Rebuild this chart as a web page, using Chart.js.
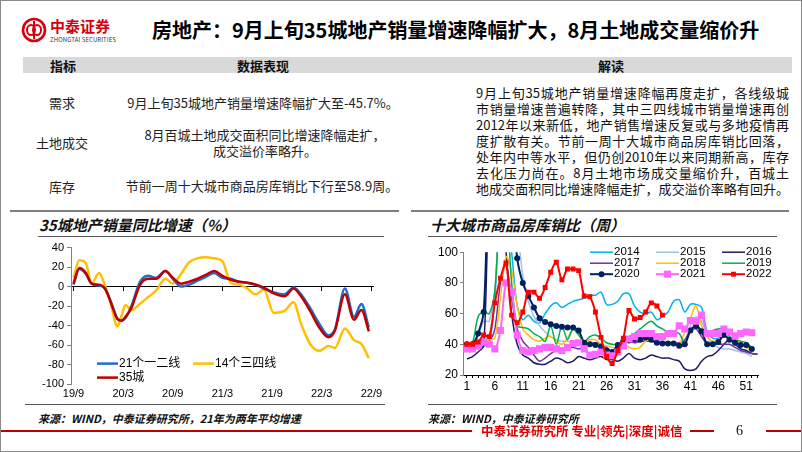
<!DOCTYPE html>
<html>
<head>
<meta charset="utf-8">
<script src="https://cdn.jsdelivr.net/npm/chart.js@4.4.1/dist/chart.umd.min.js"></script>
<style>
  html, body { margin: 0; padding: 0; background: #fff; }
  #slide { position: relative; width: 802px; height: 452px; overflow: hidden; font-family: "Noto Sans CJK SC", sans-serif; color: #111; }
  .abs { position: absolute; white-space: nowrap; }
  .c { position: absolute; white-space: nowrap; transform: translate(-50%, -50%); }
  .hline { position: absolute; height: 0; }
  .ttl { font-style: italic; font-weight: bold; font-size: 15px; }
  .src { font-style: italic; font-weight: bold; font-size: 11px; }
  .cell { font-size: 13px; color: #222; }
  #notes { position: absolute; left: 476px; top: 85px; width: 313px; font-size: 13px; line-height: 16px; color: #111; }
  #notes div { text-align: justify; text-align-last: justify; }
</style>
</head>
<body>
<div id="slide">
  <!-- logo + title -->
  <svg class="abs" style="left:21px;top:17px" width="26" height="26" viewBox="0 0 26 26">
    <circle cx="13" cy="13" r="11" fill="none" stroke="#d7000f" stroke-width="2.6"/>
    <ellipse cx="10" cy="13" rx="4" ry="5" fill="none" stroke="#d7000f" stroke-width="2"/>
    <ellipse cx="16" cy="13" rx="4" ry="5" fill="none" stroke="#d7000f" stroke-width="2"/>
    <line x1="13" y1="4" x2="13" y2="22" stroke="#d7000f" stroke-width="2"/>
  </svg>
  <div class="abs" style="left:50px;top:17px;font-size:15px;font-weight:bold;color:#d7000f;line-height:18px">中泰证券</div>
  <div class="abs" style="left:50px;top:36px;font-size:6px;color:#333;line-height:7px;letter-spacing:0.1px">ZHONGTAI SECURITIES</div>
  <div class="abs" style="left:152px;top:17px;font-size:20px;font-weight:bold;line-height:26px;color:#000">房地产：9月上旬35城地产销量增速降幅扩大，8月土地成交量缩价升</div>

  <!-- table -->
  <div class="abs" style="left:23px;top:57px;width:769px;height:16px;background:#d9d9d9"></div>
  <div class="c" style="left:63px;top:65px;font-size:13px;font-weight:bold">指标</div>
  <div class="c" style="left:263px;top:65px;font-size:13px;font-weight:bold">数据表现</div>
  <div class="c" style="left:611px;top:65px;font-size:13px;font-weight:bold">解读</div>

  <div class="c cell" style="left:62px;top:102px">需求</div>
  <div class="c cell" style="left:263px;top:102px">9月上旬35城地产销量增速降幅扩大至-45.7%。</div>
  <div class="c cell" style="left:62px;top:142px">土地成交</div>
  <div class="c cell" style="left:265px;top:134px">8月百城土地成交面积同比增速降幅走扩，</div>
  <div class="c cell" style="left:265px;top:150px">成交溢价率略升。</div>
  <div class="c cell" style="left:62px;top:186px">库存</div>
  <div class="c cell" style="left:262px;top:185px">节前一周十大城市商品房库销比下行至58.9周。</div>

  <div id="notes">
    <div>9月上旬35城地产销量增速降幅再度走扩，各线级城</div>
    <div>市销量增速普遍转降，其中三四线城市销量增速再创</div>
    <div>2012年以来新低，地产销售增速反复或与多地疫情再</div>
    <div>度扩散有关。节前一周十大城市商品房库销比回落，</div>
    <div>处年内中等水平，但仍创2010年以来同期新高，库存</div>
    <div>去化压力尚在。8月土地市场成交量缩价升，百城土</div>
    <div>地成交面积同比增速降幅走扩，成交溢价率略有回升。</div>
  </div>

  <!-- chart frames -->
  <div class="hline" style="left:10px;top:210px;width:389px;border-top:2px solid #7f7f7f"></div>
  <div class="hline" style="left:411px;top:210px;width:378px;border-top:2px solid #7f7f7f"></div>
  <div class="abs ttl" style="left:39px;top:214px;line-height:22px">35城地产销量同比增速（%）</div>
  <div class="abs ttl" style="left:430px;top:214px;line-height:22px">十大城市商品房库销比（周）</div>
  <div class="hline" style="left:38px;top:236px;width:346px;border-top:1.5px solid #595959"></div>
  <div class="hline" style="left:428px;top:236px;width:349px;border-top:1.5px solid #595959"></div>
  <div class="hline" style="left:25px;top:404px;width:360px;border-top:1.5px solid #595959"></div>
  <div class="hline" style="left:428px;top:404px;width:349px;border-top:1.5px solid #595959"></div>

  <canvas id="salesChart" class="abs" style="left:28px;top:238px" width="360" height="165"></canvas>
  <canvas id="stockChart" class="abs" style="left:420px;top:243px" width="355" height="152"></canvas>

  <div class="abs src" style="left:38px;top:410px;line-height:16px">来源：WIND，中泰证券研究所，21年为两年平均增速</div>
  <div class="abs src" style="left:428px;top:410px;line-height:16px">来源：WIND，中泰证券研究所</div>

  <!-- footer -->
  <div class="hline" style="left:0;top:430px;width:472px;border-top:2px solid #c00000"></div>
  <div class="abs" style="left:481px;top:422px;font-size:12.5px;font-weight:bold;color:#e00000;line-height:18px">中泰证券研究所 专业|领先|深度|诚信</div>
  <div class="hline" style="left:690px;top:430px;width:24px;border-top:2px solid #c00000"></div>
  <div class="abs" style="left:736px;top:422px;font-family:'Liberation Serif',serif;font-size:14px;line-height:18px">6</div>
  <div class="hline" style="left:766px;top:430px;width:36px;border-top:2px solid #c00000"></div>

  <div class="abs" style="left:0;top:0;width:800px;height:450px;border:1px solid #8a8a8a"></div>
</div>

<script>
// ---- left chart: 35城地产销量同比增速 (x = months since 2019/9) ----
const monthPos = [0, 0.7, 1.5, 2.2, 3.1, 3.8, 4.5, 5.3, 5.8, 6.3, 7, 8, 9, 10, 11.1, 12, 13, 14, 15, 16, 17, 18, 19, 20, 21, 22, 23, 24.2, 25.5, 26.6, 27.5, 28.6, 29.7, 30.8, 31.6, 32.8, 33.9, 34.8, 35.7];
const tier12 = [2, 18, 13, 3, 1, -2, -15, -33, -35, -32, -20, 4, 11, 9, 16, 8, 0, 2, 6, 10, 14, 9, 8, 5, 4, 2, -2, -6, -8, -1, -8, -22, -38, -50, -44, -2, -31, -18, -42];
const tier34 = [9, 27, 24, 3, 14, 1, -17, -41, -30, -19, -24, -18, -11, -4, 8, 3, 13, 25, 29, 30, 29, 26, 4, 2, -2, -8, -3, -27, -25, -16, -38, -59, -66, -61, -63, -43, -55, -59, -73.5];
const city35 = [3, 19, 14, 3, 2, -2, -16, -33, -35, -31, -22, 1, 8, 8, 16, 9, 3, 5, 8, 12, 16, 11, 7, 5, 4, 2, -1, -7, -10, -2, -10, -25, -42, -52, -45, -8, -34, -24, -46];
const monthTicks = [0, 6, 12, 18, 24, 30, 36];
const monthLabels = ['19/9', '20/3', '20/9', '21/3', '21/9', '22/3', '22/9'];

// ---- right chart: 十大城市商品房库销比 (weekly, values above 100 run off the top) ----
const weeks = [1, 2, 3, 4, 5, 6, 7, 8, 9, 10, 11, 12, 13, 14, 15, 16, 17, 18, 19, 20, 21, 22, 23, 24, 25, 26, 27, 28, 29, 30, 31, 32, 33, 34, 35, 36, 37, 38, 39, 40, 41, 42, 43, 44, 45, 46, 47, 48, 49, 50, 51, 52, 53];
const y2014 = [40, 38, 37, 39, 40, 70, 130, 130, 100, 65, 56, 59, 55, 54, 60, 65, 67, 64, 66, 68, 69, 70, 72, 72, 74, 66, 66, 68, 73, 73, 65, 61, 60, 61, 56, 58, 61, 68, 69, 61, 66, 66, 64, 48, 44, 44, 46, 43, 42, 40, 38, 36, null];
const y2015 = [40, 40, 45, 55, 55, 75, 130, 130, 130, 115, 85, 68, 58, 52, 48, 45, 43, 42, 42, 41, 40, 40, 41, 41, 40, 37, 36, 37, 40, 42, 43, 43, 42, 43, 42, 42, 41, 41, 40, 40, 52, 58, 55, 45, 40, 38, 37, 37, 36, 35, 34, 32, null];
const y2016 = [30.5, 32, 35, 39, 130, 130, 130, 100, 60, 40, 33, 31, 28, 27, 27, 29, 31, 30, 28, 29, 32, 31, 30, 31, 32, 30, 30, 29, 31, 34, 31, 30, 31, 33, 32, 31, 31, 30, 29, 24, 23, 24, 29, 32, 33, 36, 40, 43, 40, 37, 36, 34, 33.5];
const y2017 = [40, 40, 40, 42, 42, 50, 80, 92, 70, 50, 42, 38, 33, 29, 31, 34, 36, 37, 38, 38, 37, 38, 40, 41, 40, 38, 35, 36, 41, 42, 41, 42, 42, 42, 41, 41, 41, 41, 41, 43, 49, 50, 45, 40, 40, 40, 40, 40, 38, 36, 35, 34, 33.5];
const y2018 = [40, 40, 41, 42, 43, 44, 70, 97, 88, 65, 50, 46, 43, 42, 44, 45, 42, 40, 44, 50, 46, 42, 43, 43, 40, 39, 38, 38, 40, 38, 37, 38, 42, 43, 41, 40, 41, 40, 40, 48, 57, 65, 52, 45, 42, 43, 45, 44, 42, 40, 38, 36, null];
const y2019 = [40, 41, 58, 61, 60, 75, 130, 130, 80, 52, 51, 50, 47, 45, 42, 52, 40, 52, 43, 50, 46, 42, 45, 46, 44, 41, 40, 40, 42, 45, 47, 50, 53, 55, 52, 50, 48, 48, 47, 41, 49, 52, 47, 47, 49, 50, 50, 45, 43, 42, 41, 38, null];
const y2020 = [40, 40, 47, 61, 150, 150, 150, 150, 140, 96, 80, 71.5, 64, 57, 54.5, 53, 52, 51.5, 51, 51, 49, 41, 40, 39.5, 38.5, 36, 35, 39.5, 42, 42.5, 43.5, 43, 44.5, 43, 41, 40.5, 40.5, 40.5, 39, 40, 49, 52, 48.5, 40, 40, 41.5, 46, 43, 41, 39.5, 39.5, 37, null];
const y2021 = [37, 37, 39, 41.5, 40, 37, 49, 80, 74, 46, 36, 35, 36, 37, 38, 38, 37, 36, 38, 40.5, 41, 37, 33, 33.5, 35, 33, 32.5, 35, 39, 43.5, 45, 47, 47, 47, 45, 45, 47, 47, 52, 50, 55.5, 55, 59, 47, 47, 47, 50, 48, 45.5, 47, 48, 47.5, null];
const y2022 = [40, 40, 41.5, 46, 45, 67, 83, 93, 59, 54, 61, 74, 74, 70, 77, 87, 93.5, 82, 89, 89, 88, 71.5, 71, 61, 44.5, 32, 27.5, 36, 44, 62, 56.5, 57.5, 61, 67, 65, 59];

const tickFont = { family: "'Liberation Sans', Arial, sans-serif", size: 11 };

const xy = (xs, ys) => xs.map((x, i) => ({ x: x, y: ys[i] === undefined ? null : ys[i] }));

// legend drawn inside the plot, placed relative to the chart area
const inlineLegend = {
  id: 'inlineLegend',
  afterDraw(chart, args, opts) {
    if (!opts.items) return;
    const ctx = chart.ctx;
    const area = chart.chartArea;
    ctx.save();
    ctx.font = opts.font;
    ctx.textBaseline = 'middle';
    opts.items.forEach((it) => {
      const ds = chart.data.datasets[it.index];
      const x = area.left + it.x, y = area.top + it.y;
      ctx.strokeStyle = ds.borderColor;
      ctx.lineWidth = ds.borderWidth;
      ctx.beginPath();
      ctx.moveTo(x, y);
      ctx.lineTo(x + opts.lineLen, y);
      ctx.stroke();
      if (ds.pointRadius) {
        const mx = x + opts.lineLen / 2;
        ctx.fillStyle = ds.pointBackgroundColor;
        if (ds.pointStyle === 'rect') {
          const s = ds.pointRadius * Math.SQRT1_2;
          ctx.fillRect(mx - s, y - s, 2 * s, 2 * s);
        } else {
          ctx.beginPath();
          ctx.arc(mx, y, ds.pointRadius, 0, Math.PI * 2);
          ctx.fill();
        }
      }
      ctx.fillStyle = '#000';
      ctx.fillText(ds.label, x + opts.lineLen + 1, y);
    });
    ctx.restore();
  }
};

new Chart(document.getElementById('salesChart'), {
  type: 'line',
  plugins: [inlineLegend],
  data: {
    datasets: [
      { label: '21个一二线', data: xy(monthPos, tier12), borderColor: '#1f6fc5', borderWidth: 2.5, order: 1 },
      { label: '14个三四线', data: xy(monthPos, tier34), borderColor: '#ffc000', borderWidth: 2.5, order: 2 },
      { label: '35城', data: xy(monthPos, city35), borderColor: '#c00000', borderWidth: 2.5, order: 0 }
    ]
  },
  options: {
    responsive: false,
    animation: false,
    devicePixelRatio: 1,
    layout: { padding: { top: 9, right: 15, left: 0, bottom: 0 } },
    elements: {
      line: { cubicInterpolationMode: 'monotone', fill: false },
      point: { radius: 0 }
    },
    scales: {
      x: {
        type: 'linear', position: 'bottom', min: -0.3, max: 36.2,
        afterBuildTicks: (s) => { s.ticks = monthTicks.map(v => ({ value: v })); },
        afterFit: (s) => { s.height = 19; },
        border: { display: false },
        grid: { display: false, drawTicks: false },
        ticks: { autoSkip: false, maxRotation: 0, padding: 3, color: '#000', font: tickFont,
                 callback: (v, i) => monthLabels[i] }
      },
      x0: {
        type: 'linear', position: { y: 0 }, min: -0.3, max: 36.2,
        afterBuildTicks: (s) => { s.ticks = monthTicks.map(v => ({ value: v })); },
        border: { display: true, color: '#000', width: 1 },
        grid: { display: true, drawOnChartArea: false, drawTicks: true, tickLength: 4, color: '#000' },
        ticks: { display: false }
      },
      y: {
        min: -100, max: 40,
        afterFit: (s) => { s.width = 43; },
        border: { display: true, color: '#808080', width: 1 },
        grid: { display: true, drawOnChartArea: false, drawTicks: true, tickLength: 4, color: '#808080' },
        ticks: { stepSize: 20, padding: 3, color: '#000', font: tickFont }
      }
    },
    plugins: {
      legend: { display: false },
      tooltip: { enabled: false },
      inlineLegend: {
        font: "12px 'Liberation Sans', 'Noto Sans CJK SC', sans-serif",
        lineLen: 21,
        items: [
          { index: 0, x: 26, y: 116 },
          { index: 1, x: 122, y: 116 },
          { index: 2, x: 26, y: 130 }
        ]
      }
    }
  }
});

new Chart(document.getElementById('stockChart'), {
  type: 'line',
  plugins: [inlineLegend],
  data: {
    datasets: [
      { label: '2014', data: xy(weeks, y2014), borderColor: '#00b0f0', borderWidth: 1.5, order: 8 },
      { label: '2015', data: xy(weeks, y2015), borderColor: '#9dc3e6', borderWidth: 1.5, order: 7 },
      { label: '2016', data: xy(weeks, y2016), borderColor: '#1a1a66', borderWidth: 1.5, order: 6 },
      { label: '2017', data: xy(weeks, y2017), borderColor: '#7030a0', borderWidth: 1.5, order: 5 },
      { label: '2018', data: xy(weeks, y2018), borderColor: '#ffc000', borderWidth: 1.5, order: 4 },
      { label: '2019', data: xy(weeks, y2019), borderColor: '#00b050', borderWidth: 1.5, order: 3 },
      { label: '2020', data: xy(weeks, y2020), borderColor: '#002060', borderWidth: 2, order: 2,
        pointStyle: 'circle', pointRadius: 3, pointBackgroundColor: '#002060', pointBorderWidth: 0 },
      { label: '2021', data: xy(weeks, y2021), borderColor: '#ff66ff', borderWidth: 2, order: 1,
        pointStyle: 'rect', pointRadius: 5, pointBackgroundColor: '#ff66ff', pointBorderWidth: 0 },
      { label: '2022', data: xy(weeks, y2022), borderColor: '#ff0000', borderWidth: 2, order: 0,
        pointStyle: 'rect', pointRadius: 3.5, pointBackgroundColor: '#ff0000', pointBorderWidth: 0 }
    ]
  },
  options: {
    responsive: false,
    animation: false,
    devicePixelRatio: 1,
    layout: { padding: { top: 8, right: 17, left: 0, bottom: 0 } },
    elements: {
      line: { tension: 0.3, fill: false },
      point: { radius: 0 }
    },
    scales: {
      x: {
        type: 'linear', min: 0.3, max: 53.1,
        afterBuildTicks: (s) => { s.ticks = weeks.map(v => ({ value: v })); },
        afterFit: (s) => { s.height = 20; },
        border: { display: true, color: '#000', width: 1 },
        grid: { display: true, drawOnChartArea: false, drawTicks: true, tickLength: 3, color: '#000' },
        ticks: { autoSkip: false, maxRotation: 0, padding: 1, color: '#000',
                 font: { family: tickFont.family, size: 12 },
                 callback: (v) => ((v - 1) % 5 === 0 ? String(v) : '') }
      },
      y: {
        min: 20, max: 100,
        afterFit: (s) => { s.width = 43; },
        border: { display: true, color: '#808080', width: 1 },
        grid: { display: true, drawOnChartArea: false, drawTicks: true, tickLength: 3, color: '#808080' },
        ticks: { stepSize: 10, padding: 2, color: '#000', font: { family: tickFont.family, size: 12 } }
      }
    },
    plugins: {
      legend: { display: false },
      tooltip: { enabled: false },
      inlineLegend: {
        font: "11.5px 'Liberation Sans', Arial, sans-serif",
        lineLen: 23,
        items: [
          { index: 0, x: 127, y: 0 }, { index: 1, x: 193, y: 0 }, { index: 2, x: 259, y: 0 },
          { index: 3, x: 127, y: 11 }, { index: 4, x: 193, y: 11 }, { index: 5, x: 259, y: 11 },
          { index: 6, x: 127, y: 22 }, { index: 7, x: 193, y: 22 }, { index: 8, x: 259, y: 22 }
        ]
      }
    }
  }
});
</script>
</body>
</html>
